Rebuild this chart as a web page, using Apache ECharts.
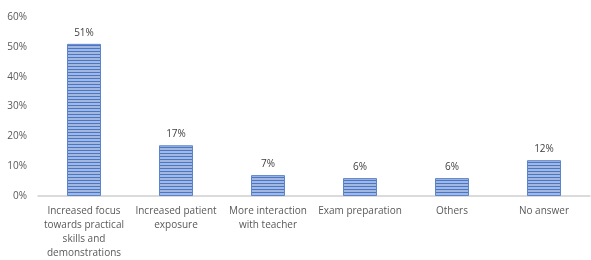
<!DOCTYPE html>
<html>
<head>
<meta charset="utf-8">
<script src="https://cdn.jsdelivr.net/npm/echarts@6/dist/echarts.min.js"></script>
<style>
  html, body { margin: 0; padding: 0; background: #fff; }
  #chart { width: 591px; height: 260px; }
</style>
</head>
<body>
<div id="chart"></div>
<script>
  var categories = [
    'Increased focus\ntowards practical\nskills and\ndemonstrations',
    'Increased patient\nexposure',
    'More interaction\nwith teacher',
    'Exam preparation',
    'Others',
    'No answer'
  ];
  var values = [51, 17, 7, 6, 6, 12];

  // striped fill like the original (horizontal lines)
  var stripe = document.createElement('canvas');
  stripe.width = 4;
  stripe.height = 3;
  var ctx = stripe.getContext('2d');
  ctx.fillStyle = '#a3b8e1';
  ctx.fillRect(0, 0, 4, 3);
  ctx.fillStyle = '#4a76c6';
  ctx.fillRect(0, 0, 4, 1);

  var chart = echarts.init(document.getElementById('chart'));
  var option = {
    animation: false,
    grid: { left: 38, right: 1, top: 17, bottom: 56, containLabel: false },
    xAxis: {
      type: 'category',
      data: categories,
      axisLine: { lineStyle: { color: '#d0d0d0', width: 1.5 } },
      axisTick: { show: false },
      axisLabel: {
        interval: 0,
        color: '#595959',
        fontFamily: 'Open Sans',
        fontSize: 10,
        lineHeight: 14,
        margin: 8
      }
    },
    yAxis: {
      type: 'value',
      min: 0,
      max: 60,
      interval: 10,
      axisLine: { show: false },
      axisTick: { show: false },
      splitLine: { show: false },
      axisLabel: {
        formatter: '{value}%',
        color: '#595959',
        fontFamily: 'Open Sans',
        fontSize: 10,
        margin: 11
      }
    },
    series: [{
      type: 'bar',
      data: values,
      barWidth: 34,
      itemStyle: {
        color: { image: stripe, repeat: 'repeat' },
        borderColor: '#5b84cc',
        borderWidth: 1
      },
      label: {
        show: true,
        position: 'top',
        formatter: '{c}%',
        color: '#404040',
        fontFamily: 'Open Sans',
        fontSize: 10,
        distance: 6
      }
    }]
  };
  chart.setOption(option);
  window.onresize = function() {
    chart.resize();
  };
</script>
</body>
</html>
